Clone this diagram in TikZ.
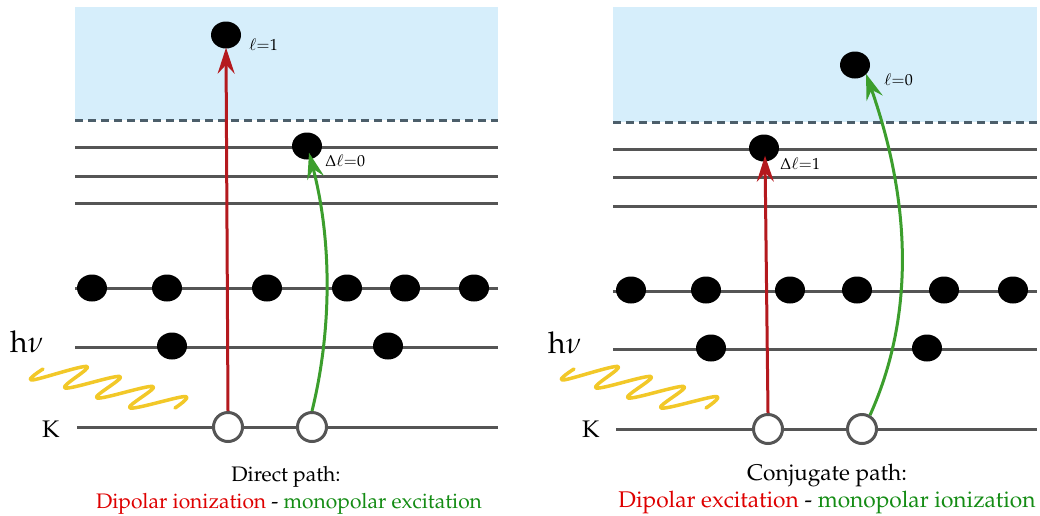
\documentclass[tikz,border=0pt]{standalone}
\usepackage[T1]{fontenc}
\usepackage{mathpazo}
\usetikzlibrary{shapes.geometric,arrows.meta}
\definecolor{skyblue}{RGB}{214,238,251}
\definecolor{dashgray}{RGB}{76,94,106}
\definecolor{lvlgray}{RGB}{85,85,85}
\definecolor{arrred}{RGB}{180,25,30}
\definecolor{arrgreen}{RGB}{60,158,45}
\definecolor{txtred}{RGB}{222,0,0}
\definecolor{txtgreen}{RGB}{20,140,20}
\definecolor{waveyellow}{RGB}{242,200,40}
\tikzset{
  lvl/.style={draw=lvlgray, line width=3pt},
  contline/.style={draw=dashgray, line width=3pt, dash pattern=on 8pt off 5pt},
  elec/.style={ellipse, fill=black, minimum width=30pt, minimum height=27pt, inner sep=0pt},
  hole/.style={circle, draw=lvlgray, line width=3pt, fill=white, minimum size=29pt, inner sep=0pt},
  redarr/.style={draw=arrred, line width=3pt, -{Stealth[length=26pt,width=17pt,inset=9pt]}},
  greenarr/.style={draw=arrgreen, line width=3pt, -{Stealth[length=26pt,width=17pt,inset=9pt]}},
  wave/.style={draw=waveyellow, line width=3.5pt, line cap=round, line join=round},
  lbl/.style={inner sep=0pt, font=\fontsize{16}{18}\selectfont},
  captxt/.style={inner sep=0pt, font=\fontsize{21}{25}\selectfont},
  captxtr/.style={inner sep=0pt, font=\fontsize{22.7}{27}\selectfont},
  hnu/.style={inner sep=0pt, font=\fontsize{30}{34}\selectfont},
  kl/.style={inner sep=0pt, font=\fontsize{24}{28}\selectfont}
}
\begin{document}
\begin{tikzpicture}[x=1pt,y=-1pt]
\useasboundingbox (0,0) rectangle (1040,515);
% ---------------- LEFT PANEL ----------------
\fill[skyblue] (75,7) rectangle (498,120);
\draw[contline] (75,120) -- (498,120);
\foreach \y in {147,176,203,288,347} \draw[lvl] (75,\y) -- (498,\y);
\draw[lvl] (77,427) -- (498,427);
\foreach \x/\n in {92/a1,167/a2,267/a3,347/a4,405/a5,474/a6}
  \node[elec] (L\n) at (\x,288) {};
\node[elec] (Lb1) at (172,346) {};
\node[elec] (Lb2) at (388,346) {};
\node[elec] (Ltop) at (226,35) {};
\node[elec] (Lexc) at (307,146) {};
\node[hole] (Lh1) at (228,427) {};
\node[hole] (Lh2) at (312,427) {};
\node[lbl, anchor=west] (Llab1) at (249,45) {$\ell{=}1$};
\node[lbl, anchor=west] (Llab2) at (325,161) {$\Delta\ell{=}0$};
\draw[redarr] (Lh1.north) -- ([yshift=1pt]Ltop.south);
\draw[greenarr] (Lh2.north) .. controls (332,330) and (332,240) .. ([xshift=2pt,yshift=7pt]Lexc.south);
\draw[wave] plot[smooth, tension=0.6] coordinates {(43,369) (32,380) (87,366.5) (65,388) (120,376.5) (97,398) (153,386.5) (130,408) (185,396.5) (175,408)};
\node[hnu, anchor=base west] (Lhnu) at (10,352) {h$\nu$};
\node[kl, anchor=base west] (LK) at (42,437) {K};
\node[captxt, anchor=base] (Lcap1) at (286,481) {Direct path:};
\node[captxt, anchor=base] (Lcap2) at (289,508) {\textcolor{txtred}{Dipolar ionization} - \textcolor{txtgreen}{monopolar excitation}};
% ---------------- RIGHT PANEL ----------------
\fill[skyblue] (613,7) rectangle (1037,122);
\draw[contline] (613,122) -- (1037,122);
\foreach \y in {149,177,206,291,349} \draw[lvl] (613,\y) -- (1037,\y);
\draw[lvl] (616,429) -- (1037,429);
\foreach \x/\n in {631/a1,706/a2,790/a3,857/a4,944/a5,1013/a6}
  \node[elec] (R\n) at (\x,290) {};
\node[elec] (Rb1) at (711,348) {};
\node[elec] (Rb2) at (927,348) {};
\node[elec] (Rtop) at (855,65) {};
\node[elec] (Rexc) at (764,148) {};
\node[hole] (Rh1) at (768,429) {};
\node[hole] (Rh2) at (862,429) {};
\node[lbl, anchor=west] (Rlab1) at (884,80) {$\ell{=}0$};
\node[lbl, anchor=west] (Rlab2) at (780,164) {$\Delta\ell{=}1$};
\draw[redarr] (Rh1.north) -- ([xshift=1pt,yshift=6pt]Rexc.south);
\draw[greenarr] (Rh2.60) .. controls (913,320) and (913,208) .. ([xshift=11pt,yshift=5pt]Rtop.south);
\draw[wave] plot[smooth, tension=0.6] coordinates {(574,369) (563,380) (618,366.5) (596,388) (651,376.5) (628,398) (684,386.5) (661,408) (716,396.5) (706,408)};
\node[hnu, anchor=base west] (Rhnu) at (548,353) {h$\nu$};
\node[kl, anchor=base west] (RK) at (582,437) {K};
\node[captxtr, anchor=base] (Rcap1) at (827,480) {Conjugate path:};
\node[captxtr, anchor=base] (Rcap2) at (827,507) {\textcolor{txtred}{Dipolar excitation} - \textcolor{txtgreen}{monopolar ionization}};
\end{tikzpicture}
\end{document}
